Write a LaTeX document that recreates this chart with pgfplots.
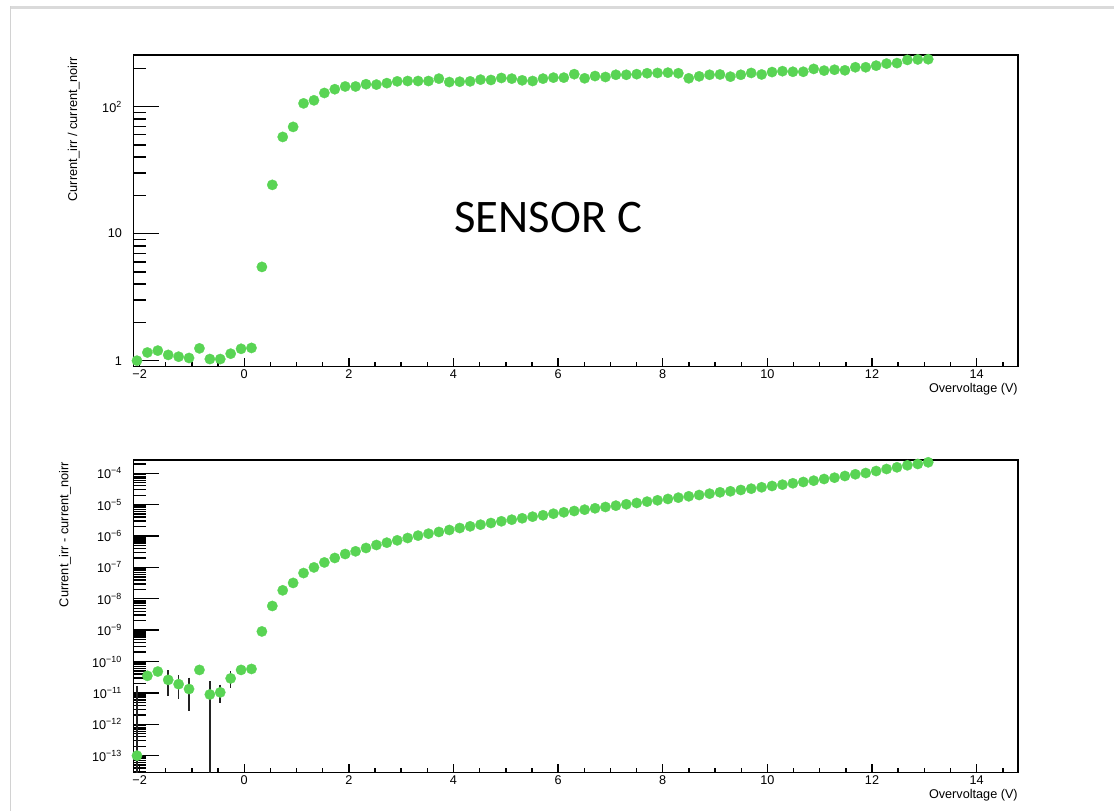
\documentclass[border=0pt]{standalone}
\usepackage{fontspec}
\setmainfont{Liberation Sans}
\newfontfamily\calibri{Carlito}
\usepackage{pgfplots}
\usepackage{pgfplotstable}
\pgfplotsset{compat=1.18}
\definecolor{rootgreen}{RGB}{89,212,84}

\pgfplotstableread{
x ratio diff
-2.050 1.00 1.0e-13
-1.851 1.16 3.5e-11
-1.652 1.20 4.8e-11
-1.453 1.11 2.6e-11
-1.254 1.075 1.9e-11
-1.055 1.05 1.33e-11
-0.856 1.25 5.4e-11
-0.657 1.03 8.9e-12
-0.458 1.03 1.04e-11
-0.259 1.135 2.9e-11
-0.060 1.24 5.4e-11
0.139 1.26 5.8e-11
0.338 5.47 9.1e-10
0.537 24.2 5.9e-9
0.736 57.7 1.86e-8
0.935 69.2 3.2e-8
1.134 106 6.6e-8
1.333 112 1.0e-7
1.532 128 1.44e-7
1.731 137 2.0e-7
1.930 144 2.67e-7
2.129 144 3.26e-7
2.328 150 4.16e-7
2.527 149 5.18e-7
2.726 153 6.14e-7
2.925 158 7.3e-7
3.124 159 8.65e-7
3.323 159 1.03e-6
3.522 159 1.19e-6
3.721 166 1.35e-6
3.920 156 1.56e-6
4.119 157 1.80e-6
4.318 158 2.04e-6
4.517 163 2.30e-6
4.716 162 2.60e-6
4.915 168 2.95e-6
5.114 166 3.32e-6
5.313 161 3.68e-6
5.512 159 4.14e-6
5.711 166 4.58e-6
5.910 169 5.15e-6
6.109 169 5.71e-6
6.308 180 6.28e-6
6.507 167 6.92e-6
6.706 174 7.66e-6
6.905 171 8.43e-6
7.104 178 9.29e-6
7.303 178 1.03e-5
7.502 180 1.13e-5
7.701 183 1.25e-5
7.900 184 1.38e-5
8.099 185 1.52e-5
8.298 183 1.67e-5
8.497 167 1.85e-5
8.696 173 2.03e-5
8.895 178 2.24e-5
9.094 179 2.48e-5
9.293 172 2.67e-5
9.492 178 2.94e-5
9.691 184 3.23e-5
9.890 179 3.58e-5
10.089 187 3.94e-5
10.288 190 4.34e-5
10.487 188 4.80e-5
10.686 188 5.28e-5
10.885 198 5.81e-5
11.084 192 6.58e-5
11.283 195 7.24e-5
11.482 193 8.2e-5
11.681 204 9.3e-5
11.880 204 1.02e-4
12.079 210 1.18e-4
12.278 218 1.37e-4
12.477 220 1.55e-4
12.676 233 1.80e-4
12.875 235 1.98e-4
13.074 236 2.24e-4
}\datatable

\pgfplotstableread{
x y ep em
-2.050 1.0e-13 1.29e-11 9.9e-14
-1.453 2.6e-11 1.6e-11 1.6e-11
-1.254 1.9e-11 1.0e-11 1.09e-11
-1.055 1.33e-11 1.07e-11 0.99e-11
-0.657 8.9e-12 9.7e-12 8.89e-12
-0.458 1.04e-11 4.1e-12 4.1e-12
-0.259 2.9e-11 1.04e-11 1.04e-11
}\errtable

\pgfplotsset{
  rootaxis/.style={
    scale only axis,
    width=663.5pt,
    xmin=-2.12, xmax=14.79,
    axis line style={line width=1.1pt},
    tick align=inside,
    tick pos=left,
    xtick={-2,0,2,4,6,8,10,12,14},
    xticklabels={−2,0,2,4,6,8,10,12,14},
    minor xtick={-1.5,-1,-0.5,0.5,1,1.5,2.5,3,3.5,4.5,5,5.5,6.5,7,7.5,8.5,9,9.5,10.5,11,11.5,12.5,13,13.5,14.5},
    major tick length=6.5pt,
    minor tick length=3.4pt,
    tick style={black, line width=1.05pt},
    ytick style={/pgfplots/major tick length=19.5pt, /pgfplots/minor tick length=9.75pt},
    tick label style={font=\fontsize{9.5}{11}\selectfont},
    xticklabel style={yshift=1pt},
    yticklabel style={xshift=-5pt},
    xlabel={Overvoltage (V)},
    xlabel style={at={(rel axis cs:1,0)}, anchor=base east, inner sep=0pt, yshift=-19.7pt, font=\fontsize{9.5}{11}\selectfont},
  },
  greendots/.style={only marks, color=rootgreen, mark=*, mark size=3.9pt, mark options={draw=rootgreen, fill=rootgreen, line width=0.2pt}},
}

\begin{document}
\begin{tikzpicture}
\path[use as bounding box] (0pt,0pt) rectangle (835.5pt,-608.25pt);
\fill[color={rgb,255:red,218;green,218;blue,218}] (10.7*0.75pt,-6*0.75pt) rectangle (1114*0.75pt,-9.3*0.75pt);
\draw[color={rgb,255:red,210;green,210;blue,210}, line width=0.75pt] (10.7*0.75pt,-6*0.75pt) -- (10.7*0.75pt,-811*0.75pt);

% top axis
\begin{axis}[rootaxis,
  at={(99.98pt,-275.0pt)}, anchor=south west,
  height=233.8pt,
  ymode=log, ymin=0.897, ymax=255,
  ytick={1,10,100},
  yticklabels={1,10,10\textsuperscript{2}},
  minor ytick={2,3,4,5,6,7,8,9,20,30,40,50,60,70,80,90,200},
]
\addplot[greendots] table[x=x, y=ratio] {\datatable};
\end{axis}

% bottom axis
\begin{axis}[rootaxis,
  at={(99.98pt,-579.2pt)}, anchor=south west,
  height=234.2pt,
  ymode=log, ymin=2.95e-14, ymax=2.65e-4,
  ytick={1e-13,1e-12,1e-11,1e-10,1e-9,1e-8,1e-7,1e-6,1e-5,1e-4},
  yticklabels={10\textsuperscript{−13},10\textsuperscript{−12},10\textsuperscript{−11},10\textsuperscript{−10},10\textsuperscript{−9},10\textsuperscript{−8},10\textsuperscript{−7},10\textsuperscript{−6},10\textsuperscript{−5},10\textsuperscript{−4}},
  minor ytick={3e-14,4e-14,5e-14,6e-14,7e-14,8e-14,9e-14,
    2e-13,3e-13,4e-13,5e-13,6e-13,7e-13,8e-13,9e-13,
    2e-12,3e-12,4e-12,5e-12,6e-12,7e-12,8e-12,9e-12,
    2e-11,3e-11,4e-11,5e-11,6e-11,7e-11,8e-11,9e-11,
    2e-10,3e-10,4e-10,5e-10,6e-10,7e-10,8e-10,9e-10,
    2e-9,3e-9,4e-9,5e-9,6e-9,7e-9,8e-9,9e-9,
    2e-8,3e-8,4e-8,5e-8,6e-8,7e-8,8e-8,9e-8,
    2e-7,3e-7,4e-7,5e-7,6e-7,7e-7,8e-7,9e-7,
    2e-6,3e-6,4e-6,5e-6,6e-6,7e-6,8e-6,9e-6,
    2e-5,3e-5,4e-5,5e-5,6e-5,7e-5,8e-5,9e-5,
    2e-4},
]
\addplot[only marks, mark=none, black, line width=1.1pt,
  error bars/.cd, y dir=both, y explicit,
  error bar style={color={rgb,255:red,35;green,35;blue,35}, line width=1.1pt},
  error mark options={color={rgb,255:red,35;green,35;blue,35}, mark size=2.5pt, line width=1.2pt}]
  table[x=x, y=y, y error plus=ep, y error minus=em] {\errtable};
\addplot[greendots] table[x=x, y=diff] {\datatable};
\end{axis}

\node[font=\fontsize{9.6}{11}\selectfont, rotate=90, anchor=east, inner sep=0pt] at (73.8*0.75pt, -56.7*0.75pt) {Current\_irr / current\_noirr};
\node[font=\fontsize{9.6}{11}\selectfont, rotate=90, anchor=east, inner sep=0pt] at (65*0.75pt, -461.7*0.75pt) {Current\_irr - current\_noirr};
\node[font=\calibri\fontsize{35}{40}\selectfont, inner sep=0pt] at (548.3*0.75pt, -218*0.75pt) {SENSOR C};
\end{tikzpicture}
\end{document}
